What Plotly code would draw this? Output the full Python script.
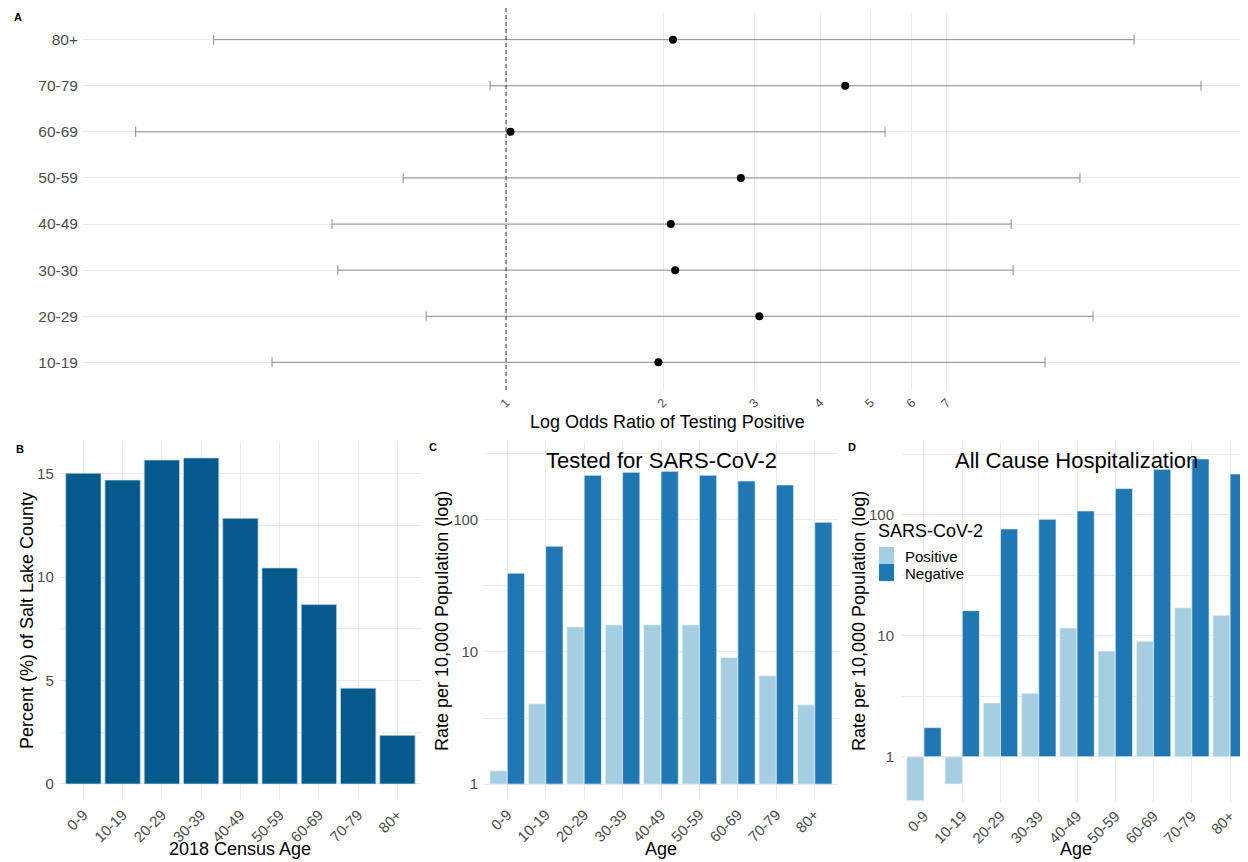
import plotly.graph_objects as go

# ---------------- data ----------------
# Panel A: odds ratios of testing positive by age group
or_groups = ["10-19", "20-29", "30-30", "40-49", "50-59", "60-69", "70-79", "80+"]
or_point = [1.96, 3.06, 2.11, 2.07, 2.82, 1.02, 4.47, 2.09]
or_low = [0.356, 0.703, 0.476, 0.464, 0.635, 0.195, 0.932, 0.275]
or_high = [10.8, 13.35, 9.38, 9.30, 12.6, 5.33, 21.5, 16.0]
or_ticks = [1, 2, 3, 4, 5, 6, 7]

# Panels B-D
ages = ["0-9", "10-19", "20-29", "30-39", "40-49", "50-59", "60-69", "70-79", "80+"]
census_pct = [15.02, 14.69, 15.66, 15.76, 12.84, 10.44, 8.67, 4.63, 2.35]
tested_pos = [1.26, 4.05, 15.45, 16.0, 16.0, 16.0, 9.06, 6.59, 3.98]
tested_neg = [39.4, 63.0, 216.6, 228.0, 232.0, 216.6, 196.0, 183.0, 95.6]
hosp_pos = [0.433, 0.595, 2.78, 3.34, 11.58, 7.47, 8.99, 17.03, 14.74]
hosp_neg = [1.74, 16.1, 76.2, 91.6, 107.3, 164.0, 237.0, 288.6, 217.0]
log_ticks = [1, 10, 100]
pct_ticks = [0, 5, 10, 15]
legend_title = "SARS-CoV-2"
legend_labels = ["Positive", "Negative"]

# ---------------- styling ----------------
W, H = 1248, 862
OFF = 8  # page body margin
FONT = "Liberation Sans, Arial, sans-serif"
GRID = "#ebebeb"
TICKC = "#4d4d4d"
LIGHT = "#a6cee3"
DARK = "#1f78b4"
CENSUS = "#045a8d"
EDGE = "#eef3f7"


def px_x(p):
    return (p - OFF) / W


def px_y(p):
    return 1 - (p - OFF) / H


fig = go.Figure()

# ---- Panel A ----
fig.add_trace(go.Scatter(
    x=or_point, y=or_groups, mode="markers",
    marker=dict(color="black", size=8),
    error_x=dict(type="data", symmetric=False,
                 array=[h - p for h, p in zip(or_high, or_point)],
                 arrayminus=[p - l for p, l in zip(or_point, or_low)],
                 color="#8c8c8c", thickness=1, width=5),
    xaxis="x", yaxis="y", showlegend=False, hoverinfo="x+y"))

# ---- Panel B ----
fig.add_trace(go.Bar(
    x=ages, y=census_pct, marker=dict(color=CENSUS, line=dict(color="#c9d6e2", width=0.7)),
    xaxis="x2", yaxis="y2", showlegend=False))

# ---- Panels C and D ----
for (pos, neg, xa, ya) in [(tested_pos, tested_neg, "x3", "y3"), (hosp_pos, hosp_neg, "x4", "y4")]:
    for vals, col, nm in [(pos, LIGHT, legend_labels[0]), (neg, DARK, legend_labels[1])]:
        fig.add_trace(go.Bar(
            x=ages, y=[v - 1 for v in vals], base=1, name=nm,
            marker=dict(color=col, line=dict(color=EDGE, width=0.7)),
            xaxis=xa, yaxis=ya, showlegend=False,
            customdata=vals, hovertemplate="%{x}: %{customdata}<extra>" + nm + "</extra>"))

tickfont = dict(family=FONT, size=15, color=TICKC)
common = dict(showline=False, zeroline=False, ticks="", gridcolor=GRID, gridwidth=1,
              automargin=False, tickfont=tickfont)

log_minor = dict(tickvals=[10 ** (k + 0.5) for k in range(-1, 3)], showgrid=True,
                 gridcolor=GRID, gridwidth=0.6)

fig.update_layout(
    width=W, height=H,
    margin=dict(l=0, r=0, t=0, b=0),
    paper_bgcolor="white", plot_bgcolor="white",
    font=dict(family=FONT, color="black"),
    barmode="group", bargap=0.1, bargroupgap=0,
    showlegend=False,
    # Panel A
    xaxis=dict(common, type="log", domain=[px_x(83), px_x(1248)],
               range=[(83 - 506) / 521.6, (1248 - 506) / 521.6],
               tickvals=or_ticks, ticktext=[str(t) for t in or_ticks],
               tickangle=-45, tickfont=dict(family=FONT, size=12.5, color=TICKC),
               anchor="y", ticklabelstandoff=2),
    yaxis=dict(common, type="category", categoryorder="array", categoryarray=or_groups,
               domain=[px_y(390), px_y(12)], range=[-0.6, 7.6], anchor="x",
               tickfont=dict(family=FONT, size=15.5, color=TICKC), ticklabelstandoff=4),
    # Panel B
    xaxis2=dict(common, type="category", domain=[px_x(59.8), px_x(421)], range=[-0.6, 8.6],
                tickangle=-45, anchor="y2", ticklabelstandoff=2),
    yaxis2=dict(common, domain=[px_y(800.3), px_y(441.6)], range=[-0.79, 16.55],
                tickvals=pct_ticks, anchor="x2", ticklabelstandoff=5,
                minor=dict(dtick=2.5, tick0=0, showgrid=True, gridcolor=GRID, gridwidth=0.6)),
    # Panel C
    xaxis3=dict(common, type="category", domain=[px_x(484.2), px_x(837.8)], range=[-0.6, 8.6],
                tickangle=-45, anchor="y3", ticklabelstandoff=2),
    yaxis3=dict(common, type="log", domain=[px_y(800), px_y(442)], range=[-0.12, 2.587],
                tickvals=log_ticks, ticktext=[str(t) for t in log_ticks], anchor="x3",
                ticklabelstandoff=5, minor=log_minor),
    # Panel D
    xaxis4=dict(common, type="category", domain=[px_x(901), px_x(1248)],
                range=[-0.6, -0.6 + (1248 - 901) / 38.27],
                tickangle=-45, anchor="y4", ticklabelstandoff=2),
    yaxis4=dict(common, type="log", domain=[px_y(801.5), px_y(442)], range=[-0.37, 2.60],
                tickvals=log_ticks, ticktext=[str(t) for t in log_ticks], anchor="x4",
                ticklabelstandoff=6, minor=log_minor),
)

# dashed reference line at OR = 1
fig.add_shape(type="line", xref="x", yref="paper", x0=1, x1=1,
              y0=px_y(390), y1=px_y(8),
              line=dict(color="#333333", width=1, dash="4px,3px"))

# legend for panel D (drawn as swatches + text)
for i, (lab, col) in enumerate(zip(legend_labels, [LIGHT, DARK])):
    top = 547 + i * 17
    fig.add_shape(type="rect", xref="paper", yref="paper",
                  x0=px_x(879), x1=px_x(894), y0=px_y(top + 17), y1=px_y(top),
                  fillcolor=col, line=dict(width=0))
    fig.add_annotation(text=lab, x=px_x(903), y=px_y(top + 9), xref="paper", yref="paper",
                       xanchor="left", yanchor="middle", showarrow=False,
                       font=dict(family=FONT, size=15, color="black"))
fig.add_annotation(text=legend_title, x=px_x(876), y=px_y(531), xref="paper", yref="paper",
                   xanchor="left", yanchor="middle", showarrow=False,
                   font=dict(family=FONT, size=18, color="black"))

annots = [
    # panel labels
    dict(text="<b>A</b>", x=18, y=17, size=11),
    dict(text="<b>B</b>", x=20, y=449, size=11),
    dict(text="<b>C</b>", x=433, y=447, size=11),
    dict(text="<b>D</b>", x=852, y=447, size=11),
    # titles
    dict(text="Tested for SARS-CoV-2", x=661, y=460, size=22),
    dict(text="All Cause Hospitalization", x=1076, y=460, size=22),
    # axis titles
    dict(text="Log Odds Ratio of Testing Positive", x=667, y=422, size=18),
    dict(text="2018 Census Age", x=240, y=849, size=18),
    dict(text="Age", x=661, y=849, size=18),
    dict(text="Age", x=1076, y=849, size=18),
    dict(text="Percent (%) of Salt Lake County", x=27, y=621, size=18, angle=-90),
    dict(text="Rate per 10,000 Population (log)", x=442, y=621, size=18, angle=-90),
    dict(text="Rate per 10,000 Population (log)", x=859, y=621, size=18, angle=-90),
]
for a in annots:
    fig.add_annotation(text=a["text"], x=px_x(a["x"]), y=px_y(a["y"]), xref="paper", yref="paper",
                       xanchor="center", yanchor="middle", showarrow=False,
                       textangle=a.get("angle", 0),
                       font=dict(family=FONT, size=a["size"], color="black"))

fig.write_html("out.html")
